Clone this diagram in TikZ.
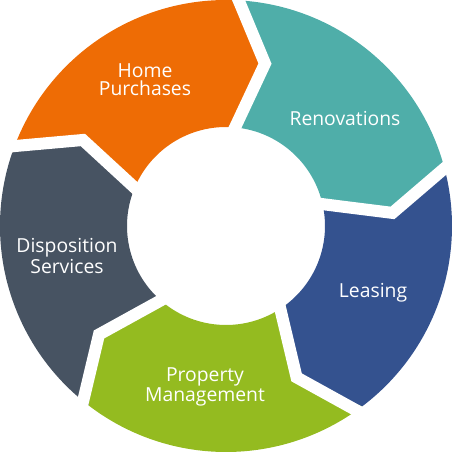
\documentclass[tikz,border=0pt]{standalone}
\usepackage{fontspec}
\setsansfont{Open Sans}
\definecolor{homeOrange}{HTML}{EE6C05}
\definecolor{renoTeal}{HTML}{4FAEA9}
\definecolor{leaseBlue}{HTML}{34528F}
\definecolor{propGreen}{HTML}{94BB20}
\definecolor{dispGray}{HTML}{475362}
\tikzset{
  segtext/.style={text=white, font=\sffamily\fontsize{11}{10.4}\selectfont, align=center},
  gap/.style={white, line width=0.24cm}
}
\def\Rout{4.52}
\def\Rin{1.98}
\def\Rmid{3.34}
\begin{document}
\begin{tikzpicture}
\useasboundingbox (-4.52,-4.52) rectangle (4.52,4.52);

\foreach \a/\b/\c in {161/88.5/homeOrange, 88.5/16.5/renoTeal, 16.5/-53/leaseBlue, -53/-127.5/propGreen, 232.5/161/dispGray} {
	\fill[\c] (\a:\Rout) -- (\a-12:\Rmid) -- (\a:\Rin) arc[start angle=\a, end angle=\b, radius=\Rin]
		-- (\b-12:\Rmid) -- (\b:\Rout) arc[start angle=\b, end angle=\a, radius=\Rout] -- cycle;
}

\foreach \a in {161,88.5,16.5,-53,-127.5} {
	\draw[gap] (\a:{\Rout+0.3}) -- (\a-12:\Rmid) -- (\a:{\Rin-0.3});
}

\node[segtext] (home)  at (-1.62, 2.92) {Home\\Purchases};
\node[segtext] (reno)  at ( 2.38, 2.14) {Renovations};
\node[segtext] (lease) at ( 2.94,-1.34) {Leasing};
\node[segtext] (prop)  at (-0.42,-3.22) {Property\\Management};
\node[segtext] (disp)  at (-3.18,-0.60) {Disposition\\Services};
\end{tikzpicture}
\end{document}
